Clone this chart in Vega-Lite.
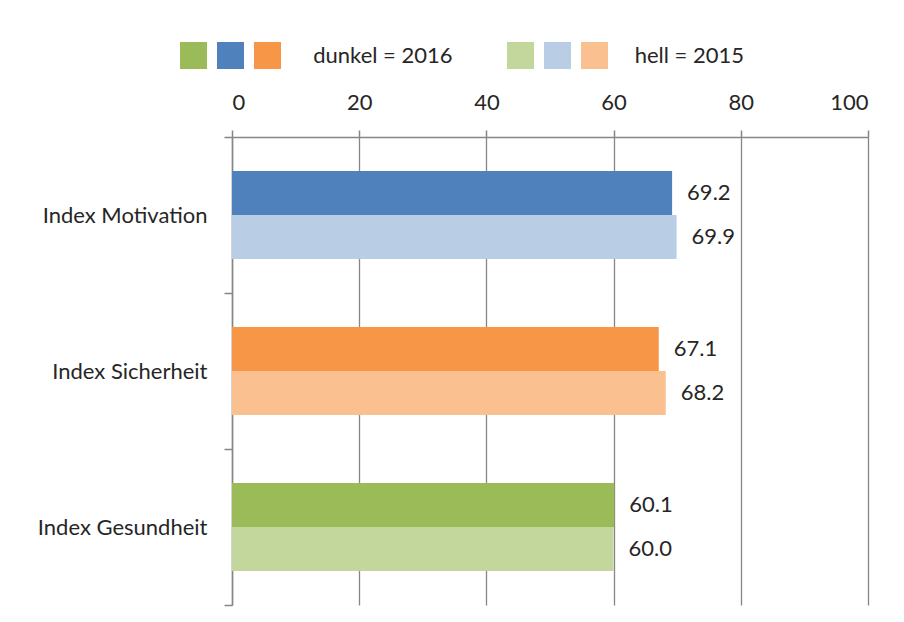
{
  "$schema": "https://vega.github.io/schema/vega-lite/v6.json",
  "width": 636,
  "height": 468,
  "autosize": "none",
  "padding": {"left": 232, "top": 137, "right": 36, "bottom": 17},
  "background": "white",
  "config": {"font": "Lato", "view": {"stroke": null}},
  "data": {
    "values": [
      {"Index": "Index Motivation", "Jahr": "2016", "Serie": "Motivation 2016", "Wert": 69.2},
      {"Index": "Index Motivation", "Jahr": "2015", "Serie": "Motivation 2015", "Wert": 69.9},
      {"Index": "Index Sicherheit", "Jahr": "2016", "Serie": "Sicherheit 2016", "Wert": 67.1},
      {"Index": "Index Sicherheit", "Jahr": "2015", "Serie": "Sicherheit 2015", "Wert": 68.2},
      {"Index": "Index Gesundheit", "Jahr": "2016", "Serie": "Gesundheit 2016", "Wert": 60.1},
      {"Index": "Index Gesundheit", "Jahr": "2015", "Serie": "Gesundheit 2015", "Wert": 60.0}
    ]
  },
  "encoding": {
    "y": {
      "field": "Index",
      "type": "nominal",
      "sort": ["Index Motivation", "Index Sicherheit", "Index Gesundheit"],
      "scale": {"paddingInner": 0, "paddingOuter": 0},
      "axis": {
        "title": null,
        "tickBand": "extent",
        "labelFontSize": 22,
        "labelColor": "#262626",
        "labelPadding": 17,
        "tickSize": 8,
        "tickColor": "#868686",
        "tickWidth": 1.5,
        "domainColor": "#868686",
        "domainWidth": 1.5,
        "grid": false
      }
    },
    "yOffset": {
      "field": "Jahr",
      "type": "nominal",
      "sort": ["2016", "2015"],
      "scale": {"paddingInner": 0, "paddingOuter": 0.773}
    },
    "x": {
      "field": "Wert",
      "type": "quantitative",
      "scale": {"domain": [0, 100], "nice": false},
      "axis": {
        "orient": "top",
        "values": [0, 20, 40, 60, 80, 100],
        "title": null,
        "labelFontSize": 22,
        "labelColor": "#262626",
        "labelPadding": 16,
        "tickSize": 7,
        "tickColor": "#868686",
        "tickWidth": 1.5,
        "domainColor": "#868686",
        "domainWidth": 1.5,
        "grid": true,
        "gridColor": "#868686",
        "gridWidth": 1.3
      }
    }
  },
  "layer": [
    {
      "mark": {"type": "bar"},
      "encoding": {
        "color": {
          "field": "Serie",
          "type": "nominal",
          "scale": {
            "domain": ["Gesundheit 2016", "Motivation 2016", "Sicherheit 2016", "Gesundheit 2015", "Motivation 2015", "Sicherheit 2015"],
            "range": ["#9BBB59", "#4F81BD", "#F79646", "#C3D69B", "#B9CDE5", "#FAC090"]
          },
          "legend": {
            "orient": "none",
            "legendX": -52,
            "legendY": -95,
            "direction": "horizontal",
            "columns": 6,
            "title": null,
            "symbolType": "square",
            "symbolSize": 729,
            "symbolStrokeWidth": 0,
            "symbolOpacity": 1,
            "labelFontSize": 22,
            "labelLimit": 0,
            "labelColor": "#262626",
            "labelOffset": 5,
            "columnPadding": 5,
            "labelExpr": "datum.value == 'Sicherheit 2016' ? '\u2800\u00a0\u00a0dunkel = 2016\u00a0\u00a0\u00a0\u2800\u2800' : datum.value == 'Sicherheit 2015' ? '\u2800\u00a0hell = 2015' : ''"
          }
        }
      }
    },
    {
      "mark": {"type": "text", "align": "left", "baseline": "middle", "dx": 15, "fontSize": 22, "color": "#262626"},
      "encoding": {"text": {"field": "Wert", "type": "quantitative", "format": ".1f"}}
    }
  ]
}
